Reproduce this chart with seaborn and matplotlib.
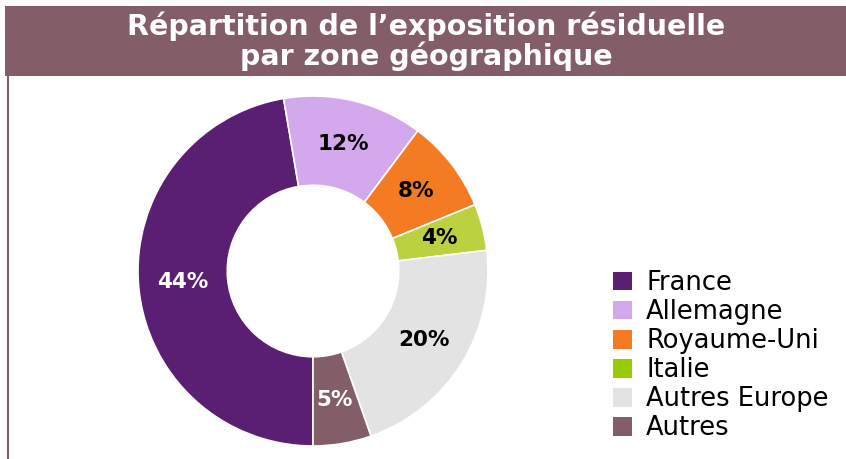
import matplotlib
matplotlib.use("Agg")
import matplotlib.pyplot as plt
from matplotlib.patches import Patch, Rectangle
from matplotlib.lines import Line2D
import seaborn as sns

categories = ["France", "Allemagne", "Royaume-Uni", "Italie", "Autres Europe", "Autres"]
values = [44, 12, 8, 4, 20, 5]
pie_colors = ["#5A1E72", "#D3A8EC", "#F47B22", "#BDD03F", "#E2E3E2", "#835E69"]
legend_colors = ["#5A1E72", "#D3A8EC", "#F47B22", "#99CC00", "#E2E3E2", "#835E69"]
label_colors = ["white", "black", "black", "black", "black", "white"]
title_lines = ["Répartition de l’exposition résiduelle", "par zone géographique"]

sns.set_theme(style="white")
plt.rcParams['font.family'] = ['DejaVu Sans']

W, H = 846, 459
fig = plt.figure(figsize=(W / 100, H / 100), dpi=100)
fig.patch.set_facecolor("white")

def fx(px):
    return px / W

def fy(py):
    return 1 - py / H

banner = "#835E69"
fig.patches.append(Rectangle((fx(5), fy(76)), fx(846) - fx(5), fy(6) - fy(76),
                             transform=fig.transFigure, facecolor=banner, edgecolor="none", zorder=0))
fig.lines.append(Line2D([fx(8), fx(8)], [fy(76), fy(459)], transform=fig.transFigure,
                        color=banner, linewidth=1.5))
fig.text(fx(426), fy(41), "\n".join(title_lines), ha="center", va="center", color="white",
         fontsize=20.5, fontweight="bold", linespacing=1.03)

cx, cy, r = 313, 271, 175
ax = fig.add_axes([fx(cx - r), fy(cy + r), (2 * r) / W, (2 * r) / H])
wedges, texts, autotexts = ax.pie(
    values, colors=pie_colors, startangle=-90, counterclock=False, radius=1,
    wedgeprops=dict(width=0.51, edgecolor="white", linewidth=1.2),
    autopct=lambda p: "", pctdistance=0.745)
for t, v, c in zip(autotexts, values, label_colors):
    t.set_text(f"{v}%")
    t.set_color(c)
    t.set_fontsize(15.5)
    t.set_fontweight("bold")
ax.set_xlim(-1, 1)
ax.set_ylim(-1, 1)
ax.set_aspect("equal")
ax.axis("off")

handles = [Patch(facecolor=c, edgecolor="none") for c in legend_colors]
fig.legend(handles, categories, loc="upper left", bbox_to_anchor=(fx(613), fy(270)),
           frameon=False, fontsize=18.5, handlelength=0.74, handleheight=0.74,
           handletextpad=0.55, labelspacing=0.12, borderaxespad=0, borderpad=0,
           labelcolor="black")

fig.savefig("out.png", dpi=100, facecolor="white")
